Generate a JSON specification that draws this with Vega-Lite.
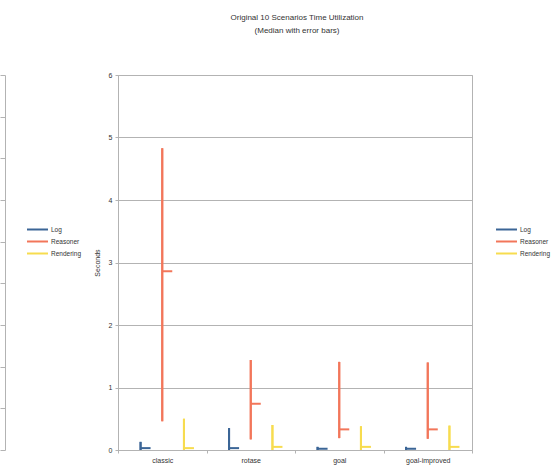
{
  "$schema": "https://vega.github.io/schema/vega-lite/v6.json",
  "width": 354,
  "height": 375,
  "autosize": {"type": "none"},
  "padding": {"left": 118, "top": 75, "right": 83, "bottom": 17},
  "config": {
    "font": "Liberation Sans",
    "view": {"stroke": "#b3b3b3", "strokeWidth": 1},
    "axis": {"labelFontSize": 7, "labelColor": "#333333", "titleFontSize": 7, "titleColor": "#333333", "titleFontWeight": "normal", "domainColor": "#b3b3b3", "tickColor": "#b3b3b3", "gridColor": "#b3b3b3"},
    "legend": {"labelFontSize": 6.5, "labelColor": "#333333"}
  },
  "title": {
    "text": ["Original 10 Scenarios Time Utilization", "(Median with error bars)"],
    "fontSize": 8, "fontWeight": "normal", "color": "#333333", "anchor": "middle", "frame": "group",
    "offset": 36, "lineHeight": 13, "dx": 2
  },
  "data": {
    "values": [
      {"scenario": "classic", "series": "Log", "low": 0, "high": 0.13, "median": 0.03},
      {"scenario": "classic", "series": "Reasoner", "low": 0.46, "high": 4.83, "median": 2.86},
      {"scenario": "classic", "series": "Rendering", "low": 0, "high": 0.5, "median": 0.03},
      {"scenario": "rotase", "series": "Log", "low": 0, "high": 0.35, "median": 0.03},
      {"scenario": "rotase", "series": "Reasoner", "low": 0.17, "high": 1.44, "median": 0.74},
      {"scenario": "rotase", "series": "Rendering", "low": 0, "high": 0.4, "median": 0.05},
      {"scenario": "goal", "series": "Log", "low": 0, "high": 0.05, "median": 0.02},
      {"scenario": "goal", "series": "Reasoner", "low": 0.19, "high": 1.41, "median": 0.33},
      {"scenario": "goal", "series": "Rendering", "low": 0, "high": 0.38, "median": 0.05},
      {"scenario": "goal-improved", "series": "Log", "low": 0, "high": 0.05, "median": 0.02},
      {"scenario": "goal-improved", "series": "Reasoner", "low": 0.18, "high": 1.4, "median": 0.33},
      {"scenario": "goal-improved", "series": "Rendering", "low": 0, "high": 0.39, "median": 0.05}
    ]
  },
  "layer": [
    {
      "encoding": {
        "x": {"field": "scenario", "type": "nominal", "sort": ["classic", "rotase", "goal", "goal-improved"],
              "scale": {"paddingInner": 0, "paddingOuter": 0},
              "axis": {"title": null, "labelAngle": 0, "tickBand": "extent", "tickSize": 3, "labelPadding": 3, "grid": false}}
      },
      "layer": [
        {
          "mark": {"type": "rule", "strokeWidth": 2},
          "encoding": {
            "xOffset": {"field": "series", "type": "nominal", "sort": ["Log", "Reasoner", "Rendering"],
                        "scale": {"paddingInner": 0, "paddingOuter": 0.54}},
            "y": {"field": "low", "type": "quantitative", "scale": {"domain": [0, 6]},
                  "axis": {"title": "Seconds", "values": [0,1,2,3,4,5,6], "grid": true, "tickSize": 3, "labelPadding": 3, "titlePadding": 8}},
            "y2": {"field": "high"},
            "color": {"field": "series", "type": "nominal", "sort": ["Log", "Reasoner", "Rendering"],
                      "scale": {"range": ["#3b6596", "#f2765a", "#f7dc4f"]},
                      "legend": {"title": null, "orient": "none", "legendX": 382, "legendY": 148, "symbolType": "M-2,0H2", "symbolSize": 110, "symbolStrokeWidth": 2, "symbolOpacity": 1, "rowPadding": 1, "labelOffset": 7}}
          }
        },
        {
          "mark": {"type": "rule", "strokeWidth": 2},
          "encoding": {
            "xOffset": {"field": "series", "type": "nominal", "sort": ["Log", "Reasoner", "Rendering"],
                        "scale": {"paddingInner": 0, "paddingOuter": 0.54}},
            "y": {"field": "low", "type": "quantitative", "scale": {"domain": [0, 6]},
                  "axis": {"title": "Seconds", "values": [0,1,2,3,4,5,6], "grid": true, "tickSize": 3, "labelPadding": 3, "titlePadding": 8}},
            "y2": {"field": "high"},
            "stroke": {"field": "series", "type": "nominal", "sort": ["Log", "Reasoner", "Rendering"],
                      "scale": {"range": ["#3b6596", "#f2765a", "#f7dc4f"]},
                      "legend": {"title": null, "orient": "none", "legendX": -87, "legendY": 148, "symbolType": "M-2,0H2", "symbolSize": 110, "symbolStrokeWidth": 2, "symbolOpacity": 1, "rowPadding": 1, "labelOffset": 7}}
          }
        },
        {
          "mark": {"type": "tick", "size": 10, "thickness": 2, "opacity": 1},
          "encoding": {
            "xOffset": {"field": "series", "type": "nominal", "sort": ["Log", "Reasoner", "Rendering"],
                        "scale": {"paddingInner": 0, "paddingOuter": 0.54, "align": 0.714}},
            "y": {"field": "median", "type": "quantitative", "scale": {"domain": [0, 6]},
                  "axis": {"title": "Seconds", "values": [0,1,2,3,4,5,6], "grid": true, "tickSize": 3, "labelPadding": 3, "titlePadding": 8}},
            "color": {"field": "series", "type": "nominal"}
          }
        }
      ],
      "resolve": {"scale": {"xOffset": "independent"}}
    },
    {
      "mark": {"type": "rule", "opacity": 0},
      "encoding": {
        "y": {"field": "high", "type": "quantitative", "scale": {"domain": [0, 9]},
              "axis": {"orient": "left", "offset": 113, "values": [0,1,2,3,4,5,6,7,8,9], "labels": false, "title": null, "grid": false, "tickSize": 5, "domain": true}}
      }
    }
  ],
  "resolve": {"scale": {"y": "independent"}}
}
